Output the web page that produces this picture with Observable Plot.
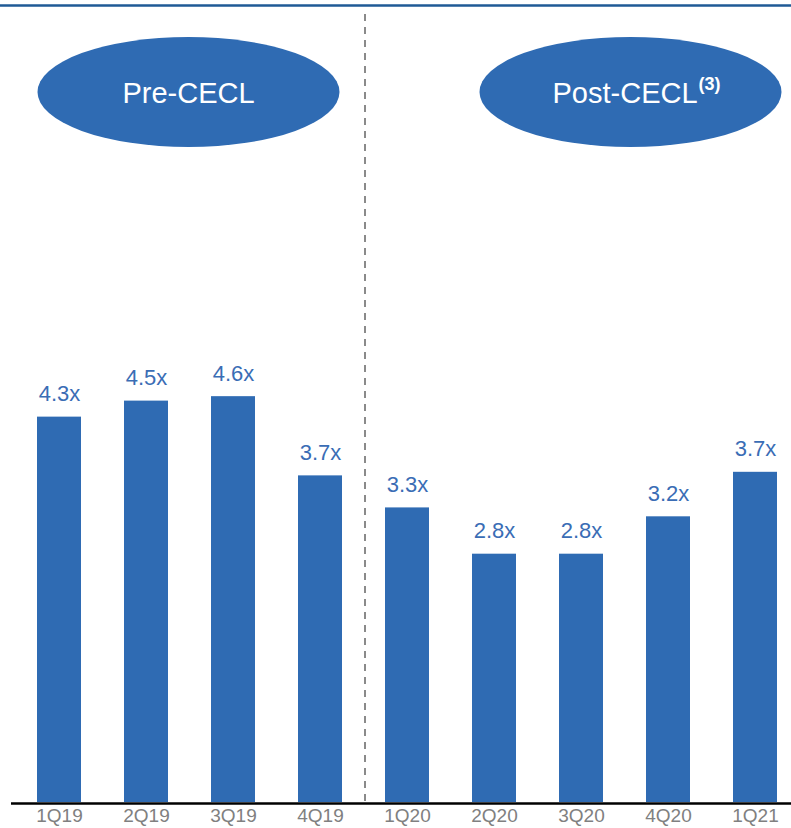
<!DOCTYPE html>
<html>
<head>
<meta charset="utf-8">
<script src="https://cdn.jsdelivr.net/npm/d3@7"></script>
<script src="https://cdn.jsdelivr.net/npm/@observablehq/plot@0.6"></script>
<style>
  html, body { margin: 0; padding: 0; background: #fff; }
  #chart { width: 791px; height: 828px; overflow: hidden; }
</style>
</head>
<body>
<div id="chart"></div>
<script>
const quarters = ["1Q19","2Q19","3Q19","4Q19","1Q20","2Q20","3Q20","4Q20","1Q21"];
const values = [4.33, 4.51, 4.56, 3.67, 3.31, 2.79, 2.79, 3.21, 3.71];
const labels = ["4.3x","4.5x","4.6x","3.7x","3.3x","2.8x","2.8x","3.2x","3.7x"];
const periods = ["Pre-CECL", "Post-CECL"];
const periodNotes = ["", "(3)"];

const data = quarters.map((q, i) => ({q, v: values[i], label: labels[i]}));

const BLUE = "#2f6bb3";
const LABEL_BLUE = "#3a6db5";
const FONT = "'Liberation Sans', Arial, Helvetica, sans-serif";

function decor(index, scales, values, dimensions) {
  const x = scales.x;
  const bw = x.bandwidth ? x.bandwidth() : 0;
  const c = q => x(q) + bw / 2;
  const g = d3.create("svg:g");
  // top rule
  g.append("line").attr("x1", 0).attr("x2", dimensions.width)
    .attr("y1", 5.5).attr("y2", 5.5)
    .attr("stroke", "#1f5a96").attr("stroke-width", 2.5);
  const centers = [
    (c("2Q19") + c("3Q19")) / 2 - 1,
    (c("3Q20") + c("4Q20")) / 2 + 6
  ];
  periods.forEach((p, i) => {
    const cx = centers[i];
    g.append("ellipse").attr("cx", cx).attr("cy", 92)
      .attr("rx", 151).attr("ry", 55).attr("fill", BLUE);
    const t = g.append("text")
      .attr("y", 102.5)
      .attr("fill", "#fff")
      .attr("font-family", FONT)
      .attr("font-size", 29);
    if (periodNotes[i]) {
      t.attr("x", cx - 78).attr("text-anchor", "start");
      t.append("tspan").text(p);
      t.append("tspan").attr("dx", 1).attr("dy", -13)
        .attr("font-size", 18).attr("font-weight", "bold").text(periodNotes[i]);
    } else {
      t.attr("x", cx).attr("text-anchor", "middle").text(p);
    }
  });
  return g.node();
}

const plot = Plot.plot({
  width: 791,
  height: 828,
  marginTop: 0,
  marginBottom: 26,
  marginLeft: 11,
  marginRight: 0,
  style: {fontFamily: FONT, background: "transparent"},
  x: {domain: quarters, range: [35, 779], paddingInner: 0.5, paddingOuter: 0, label: null},
  y: {domain: [0, 802 / 89], axis: null},
  marks: [
    Plot.ruleX(["1Q20"], {x: d => d, dx: -42.5, insetTop: 14, stroke: "#8a8a8a", strokeWidth: 2, strokeDasharray: "7,6"}),
    Plot.barY(data, {x: "q", y: "v", fill: BLUE}),
    Plot.text(data, {x: "q", y: "v", text: "label", dy: -16, lineAnchor: "bottom", fill: LABEL_BLUE, fontSize: 22}),
    Plot.ruleY([0], {stroke: "#000", strokeWidth: 2.5, dy: 1}),
    Plot.axisX({tickSize: 0, tickPadding: 6, fontSize: 19, color: "#808080", label: null}),
    decor
  ]
});
document.getElementById("chart").appendChild(plot);
</script>
</body>
</html>
